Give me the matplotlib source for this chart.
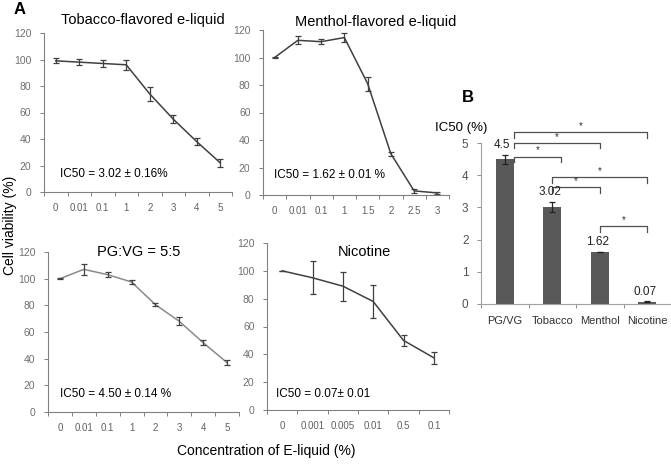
import matplotlib
matplotlib.use("Agg")
import matplotlib.pyplot as plt
import numpy as np

plt.rcParams["font.family"] = ["Liberation Sans", "DejaVu Sans"]

W, H = 671, 467

# ---- data ----
tob_labels = ["0", "0.01", "0.1", "1", "2", "3", "4", "5"]
tob_vals = [99, 98, 97, 96, 74, 55, 38, 22]
tob_err = [2, 2.5, 3, 4, 5, 3, 2.5, 3]

men_labels = ["0", "0.01", "0.1", "1", "1.5", "2", "2.5", "3"]
men_vals = [100, 112.5, 111.5, 114.5, 81, 30, 3, 1.5]
men_err = [0.5, 3, 2, 3, 5, 1.5, 1.5, 0.5]

pg_labels = ["0", "0.01", "0.1", "1", "2", "3", "4", "5"]
pg_vals = [100, 107, 103, 97.5, 80.5, 68, 52, 37]
pg_err = [0.5, 4, 2, 1.5, 1, 3, 2, 2]

nic_labels = ["0", "0.001", "0.005", "0.01", "0.5", "0.1"]
nic_vals = [100, 95, 89, 78, 50, 37.5]
nic_err = [0, 12, 10.5, 12, 4, 4.5]

ic50_names = ["PG/VG", "Tobacco", "Menthol", "Nicotine"]
ic50_vals = [4.5, 3.02, 1.62, 0.07]
ic50_err = [0.14, 0.16, 0.01, 0.01]
ic50_text = ["4.5", "3.02", "1.62", "0.07"]

# significance pairs (from, to) and bracket heights
sig_pairs = [(0, 3), (0, 2), (0, 1), (1, 3), (1, 2), (2, 3)]
sig_heights = [5.33, 5.0, 4.58, 3.93, 3.62, 2.41]


def box(x0, x1, y_bottom, y_top):
    return [x0 / W, 1 - y_bottom / H, (x1 - x0) / W, (y_bottom - y_top) / H]


def ftext(x, y, s, **kw):
    fig.text(x / W, 1 - y / H, s, **kw)


fig = plt.figure(figsize=(W / 100, H / 100), dpi=100)

panels = [
    (box(44, 232, 192, 33), tob_labels, tob_vals, tob_err, "#404040", "#404040"),
    (box(263, 449, 195, 30), men_labels, men_vals, men_err, "#404040", "#404040"),
    (box(48, 239, 412, 252), pg_labels, pg_vals, pg_err, "#8a8a8a", "#404040"),
    (box(267, 449, 410, 243), nic_labels, nic_vals, nic_err, "#404040", "#404040"),
]

for rect, labels, vals, err, lc, ec in panels:
    ax = fig.add_axes(rect)
    x = np.arange(len(vals))
    ax.plot(x, vals, color=lc, lw=1.1)
    ax.errorbar(x, vals, yerr=err, fmt="none", ecolor=ec, elinewidth=0.9,
                capsize=2.2, capthick=0.9)
    ax.set_xlim(-0.5, len(vals) - 0.5)
    ax.set_ylim(0, 120)
    ax.set_yticks(range(0, 121, 20))
    ax.set_xticks(x)
    ax.set_xticklabels(labels)
    ax.set_xticks(np.arange(-0.5, len(vals), 1), minor=True)
    ax.tick_params(axis="x", which="major", length=0, pad=8, labelsize=7,
                   labelcolor="#606060")
    ax.tick_params(axis="x", which="minor", length=3, color="#808080",
                   width=0.7)
    ax.tick_params(axis="y", length=3, color="#808080", width=0.7,
                   labelsize=7.5, labelcolor="#707070", pad=6)
    for s in ["top", "right"]:
        ax.spines[s].set_visible(False)
    ax.spines["left"].set_color("#808080")
    ax.spines["bottom"].set_color("#808080")
    ax.spines["left"].set_linewidth(0.8)
    ax.spines["bottom"].set_linewidth(0.8)

# panel titles and IC50 annotations
ftext(143, 20, "Tobacco-flavored e-liquid", fontsize=10.5, ha="center", va="center")
ftext(376, 22, "Menthol-flavored e-liquid", fontsize=10.5, ha="center", va="center")
ftext(139, 252, "PG:VG = 5:5", fontsize=10.5, ha="center", va="center")
ftext(364, 252, "Nicotine", fontsize=10.5, ha="center", va="center")

ftext(60, 174, "IC50 = 3.02 \u00b1 0.16%", fontsize=8.5, va="center")
ftext(274, 175, "IC50 = 1.62 \u00b1 0.01 %", fontsize=8.5, va="center")
ftext(60, 394, "IC50 = 4.50 \u00b1 0.14 %", fontsize=8.5, va="center")
ftext(276, 394, "IC50 = 0.07\u00b1 0.01", fontsize=8.5, va="center")

ftext(20, 10, "A", fontsize=12, fontweight="bold", ha="center", va="center")
ftext(10, 225, "Cell viability (%)", fontsize=10, rotation=90, ha="center", va="center")
ftext(266, 451, "Concentration of E-liquid (%)", fontsize=10, ha="center", va="center")

# ---- panel B ----
axb = fig.add_axes(box(481, 671, 304, 143))
xb = np.arange(len(ic50_vals))
axb.bar(xb, ic50_vals, width=0.38, color="#595959")
axb.errorbar(xb, ic50_vals, yerr=ic50_err, fmt="none", ecolor="#222222",
             elinewidth=0.9, capsize=2.2, capthick=0.9)
axb.set_xlim(-0.5, len(ic50_vals) - 0.5)
axb.set_ylim(0, 5)
axb.set_yticks(range(0, 6))
axb.set_xticks(xb)
axb.set_xticklabels(ic50_names)
axb.set_xticks(np.arange(-0.5, len(ic50_vals), 1), minor=True)
axb.tick_params(axis="x", which="major", length=0, pad=9, labelsize=8,
                labelcolor="#303030")
axb.tick_params(axis="x", which="minor", length=3, color="#909090", width=0.7)
axb.tick_params(axis="y", length=3, color="#909090", width=0.7, labelsize=8.5,
                labelcolor="#505050", pad=6)
for s in ["top", "right"]:
    axb.spines[s].set_visible(False)
axb.spines["left"].set_color("#a0a0a0")
axb.spines["bottom"].set_color("#a0a0a0")
axb.spines["left"].set_linewidth(0.8)
axb.spines["bottom"].set_linewidth(0.8)

for i, (v, e, t) in enumerate(zip(ic50_vals, ic50_err, ic50_text)):
    axb.text(i - 0.05, v + e + 0.12, t, fontsize=8.5, ha="center", va="bottom",
             color="#202020")

half_bar = 0.19
for (a, b), hgt in zip(sig_pairs, sig_heights):
    xa = a + half_bar if a == 0 else a
    xbr = b + half_bar if (a == 0 and b == 1) else b
    drop = 0.16
    axb.plot([xa, xa, xbr, xbr], [hgt - drop, hgt, hgt, hgt - drop],
             color="#505050", lw=0.9, clip_on=False)
    axb.text((xa + xbr) / 2, hgt + 0.04, "*", fontsize=7, ha="center",
             va="bottom", color="#303030", clip_on=False)

ftext(468, 98, "B", fontsize=12, fontweight="bold", ha="center", va="center")
ftext(435, 128, "IC50 (%)", fontsize=9.5, ha="left", va="center")

fig.savefig("out.png", dpi=100)
